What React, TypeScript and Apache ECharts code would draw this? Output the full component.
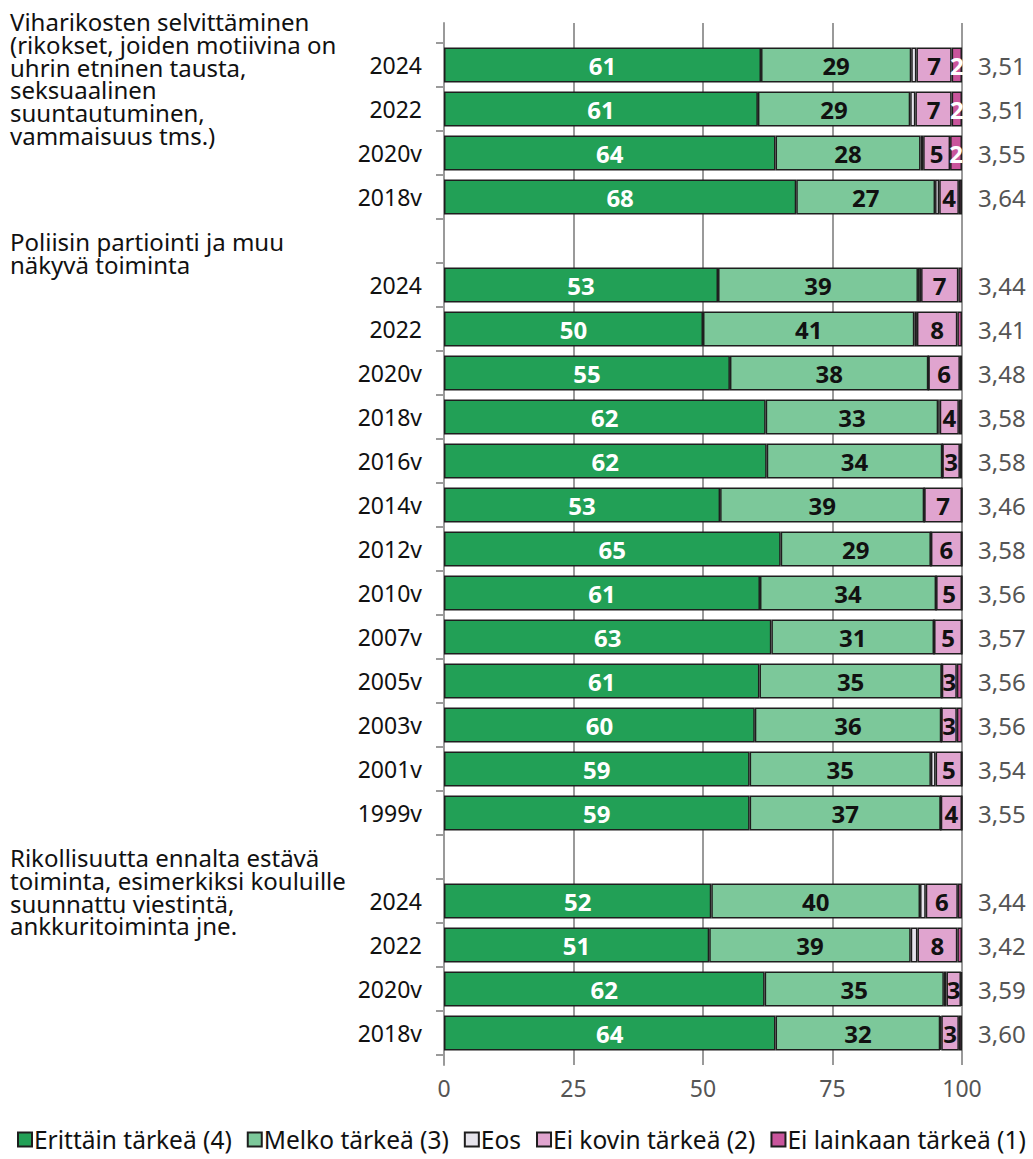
import React, { useEffect, useRef } from "react";
import * as echarts from "echarts";

const FONT = "'Noto Sans', sans-serif";

const categories = [
  "2024", "2022", "2020v", "2018v",
  "",
  "2024", "2022", "2020v", "2018v", "2016v", "2014v", "2012v", "2010v", "2007v", "2005v", "2003v", "2001v", "1999v",
  "",
  "2024", "2022", "2020v", "2018v",
];

const erittain = [61.2, 60.6, 64.0, 68.0, null, 52.9, 50.0, 55.2, 62.1, 62.3, 53.3, 65.0, 61.0, 63.2, 60.9, 60.0, 59.0, 59.0, null, 51.6, 51.2, 61.9, 64.0];
const melko = [29.0, 29.4, 28.0, 26.8, null, 38.6, 40.8, 38.3, 33.3, 33.9, 39.4, 29.0, 34.0, 31.4, 35.2, 36.0, 35.0, 36.9, null, 40.3, 38.9, 34.6, 31.8];
const eos = [1.0, 1.0, 0.5, 0.8, null, 0.6, 0.5, 0.0, 0.3, 0.0, 0.0, 0.0, 0.0, 0.0, 0.0, 0.0, 0.9, 0.0, null, 1.1, 1.3, 0.5, 0.2];
const eiKovin = [6.8, 7.0, 5.2, 3.8, null, 7.2, 7.8, 6.1, 3.7, 3.4, 7.3, 6.0, 5.0, 5.4, 2.9, 3.0, 5.1, 4.1, null, 6.2, 7.7, 2.8, 3.4];
const eiLainkaan = [2.0, 2.0, 2.3, 0.6, null, 0.7, 0.9, 0.4, 0.6, 0.4, 0.0, 0.0, 0.0, 0.0, 1.0, 1.0, 0.0, 0.0, null, 0.8, 0.9, 0.2, 0.6];

const means = ["3,51", "3,51", "3,55", "3,64", "", "3,44", "3,41", "3,48", "3,58", "3,58", "3,46", "3,58", "3,56", "3,57", "3,56", "3,56", "3,54", "3,55", "", "3,44", "3,42", "3,59", "3,60"];

const headings = [
  "Viharikosten selvittäminen\n(rikokset, joiden motiivina on\nuhrin etninen tausta,\nseksuaalinen\nsuuntautuminen,\nvammaisuus tms.)",
  "Poliisin partiointi ja muu\nnäkyvä toiminta",
  "Rikollisuutta ennalta estävä\ntoiminta, esimerkiksi kouluille\nsuunnattu viestintä,\nankkuritoiminta jne.",
];
const headingRows = [-1, 4, 18];

const seriesNames = ["Erittäin tärkeä (4)", "Melko tärkeä (3)", "Eos", "Ei kovin tärkeä (2)", "Ei lainkaan tärkeä (1)"];
const seriesData = [erittain, melko, eos, eiKovin, eiLainkaan];
const colors = ["#22a056", "#7cc89a", "#e6e4ec", "#e0a4cf", "#c9559c"];
const labelColors = ["#ffffff", "#111111", "#111111", "#111111", "#ffffff"];

const xTicks = [0, 25, 50, 75, 100];

export default function App() {
  const ref = useRef<HTMLDivElement>(null);
  useEffect(() => {
    document.body.style.margin = "0";
    const chart = echarts.init(ref.current!, null, { renderer: "svg" });
    const plotLeft = 444;
    const plotRight = 962;
    const gridTop = 43;
    const rowH = 44;
    const nRows = categories.length;
    const lineH = 22.7;

    const option: any = {
      animation: false,
      textStyle: { fontFamily: FONT },
      grid: [
        { left: plotLeft, width: plotRight - plotLeft, top: gridTop, height: rowH * nRows, containLabel: false },
        { left: plotLeft, width: plotRight - plotLeft, top: 23, height: 1042, containLabel: false },
      ],
      xAxis: [
        { type: "value", gridIndex: 0, min: 0, max: 100, show: false },
        {
          type: "value", gridIndex: 1, min: 0, max: 100, interval: 25,
          axisLine: { show: false }, axisTick: { show: false },
          splitLine: { show: true, lineStyle: { color: "#9a9a9a", width: 2 } },
          axisLabel: { color: "#555", fontSize: 23, margin: 11, fontFamily: FONT,
            formatter: (v: number) => (xTicks.includes(v) ? String(v) : "") },
        },
      ],
      yAxis: [
        {
          type: "category", gridIndex: 0, inverse: true, data: categories,
          axisLine: { show: false },
          axisTick: { show: true, length: 8, lineStyle: { color: "#9a9a9a", width: 2 } },
          axisLabel: { color: "#111", fontSize: 23, margin: 22, fontFamily: FONT },
        },
        {
          type: "category", gridIndex: 0, inverse: true, data: means, position: "right",
          axisLine: { show: false }, axisTick: { show: false },
          axisLabel: { color: "#555", fontSize: 24, margin: 16, fontFamily: FONT },
        },
        {
          type: "value", gridIndex: 1, min: 0, max: 1,
          axisLine: { show: true, lineStyle: { color: "#9a9a9a", width: 2 } },
          axisTick: { show: false }, axisLabel: { show: false }, splitLine: { show: false },
        },
      ],
      legend: {
        left: 12, right: 0, top: 1122, itemWidth: 14, itemHeight: 14, itemGap: 15,
        icon: "rect",
        textStyle: { fontSize: 24.5, color: "#111", fontFamily: FONT, padding: [0, 0, 0, -3] },
        data: seriesNames,
      },
      series: seriesNames.map((name, i) => ({
        name, type: "bar", stack: "total", xAxisIndex: 0, yAxisIndex: 0,
        barWidth: 35,
        data: seriesData[i],
        itemStyle: { color: colors[i], borderColor: "#1e1e1e", borderWidth: 1.5 },
        label: {
          show: true, position: "inside", color: labelColors[i], fontSize: 24, fontWeight: "bold",
          fontFamily: FONT,
          formatter: (p: any) => (p.value != null && Math.round(p.value) >= 2 ? String(Math.round(p.value)) : ""),
        },
      })),
      graphic: headings.map((t, i) => ({
        type: "text",
        left: 10,
        top: gridTop + (headingRows[i] + 0.5) * rowH - lineH / 2,
        style: { text: t, fontSize: 24, lineHeight: lineH, fill: "#111", fontFamily: FONT },
      })),
    };
    chart.setOption(option);
    return () => chart.dispose();
  }, []);
  return <div ref={ref} style={{ width: 1033, height: 1159 }} />;
}
